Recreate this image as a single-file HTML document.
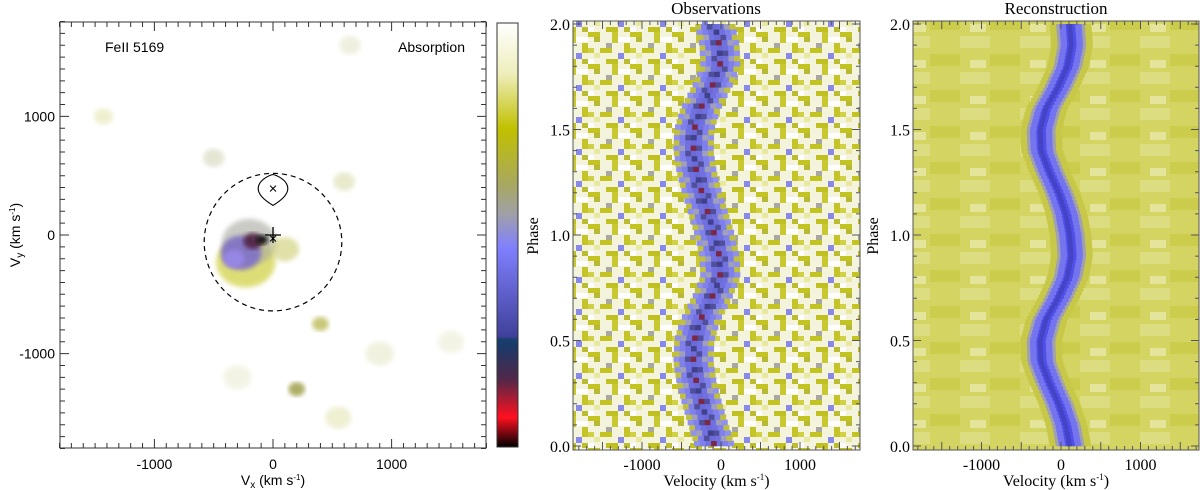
<!DOCTYPE html>
<html><head><meta charset="utf-8">
<style>
html,body{margin:0;padding:0;background:#fff;}
svg{display:block;}
.sans{font-family:"Liberation Sans",sans-serif;}
.serif{font-family:"Liberation Serif",serif;}
</style></head>
<body>
<svg id="fig" width="1200" height="490" viewBox="0 0 1200 490" xmlns="http://www.w3.org/2000/svg">
<defs>
<linearGradient id="cbar" x1="0" y1="0" x2="0" y2="1">
<stop offset="0" stop-color="#ffffff"/>
<stop offset="0.12" stop-color="#eeeebb"/>
<stop offset="0.25" stop-color="#c0c000"/>
<stop offset="0.38" stop-color="#a8a860"/>
<stop offset="0.45" stop-color="#a0a0a8"/>
<stop offset="0.53" stop-color="#8080ff"/>
<stop offset="0.74" stop-color="#40409a"/>
<stop offset="0.745" stop-color="#1a4070"/>
<stop offset="0.76" stop-color="#1a3a6a"/>
<stop offset="0.84" stop-color="#502848"/>
<stop offset="0.93" stop-color="#ff1020"/>
<stop offset="1" stop-color="#000000"/>
</linearGradient>
<pattern id="obsTex" width="42" height="32" patternUnits="userSpaceOnUse">
<rect width="42" height="32" fill="#f4f4dc"/>
<rect x="0" y="0" width="12" height="5" fill="#c4c420"/>
<rect x="24" y="0" width="6" height="11" fill="#c8c830"/>
<rect x="6" y="5" width="6" height="5" fill="#b8b838"/>
<rect x="30" y="5" width="12" height="5" fill="#ffffff"/>
<rect x="18" y="11" width="6" height="5" fill="#a8a8a0"/>
<rect x="0" y="16" width="6" height="5" fill="#d0d040"/>
<rect x="12" y="16" width="12" height="5" fill="#c4c420"/>
<rect x="36" y="11" width="6" height="10" fill="#c4c428"/>
<rect x="30" y="21" width="6" height="6" fill="#8888e8"/>
<rect x="6" y="21" width="6" height="5" fill="#e8e8a0"/>
<rect x="18" y="27" width="12" height="5" fill="#c0c020"/>
<rect x="0" y="27" width="6" height="5" fill="#ffffff"/>
<rect x="36" y="27" width="6" height="5" fill="#bcbc30"/>
</pattern>
<pattern id="recTex" width="60" height="36" patternUnits="userSpaceOnUse">
<rect width="60" height="36" fill="#d4d462"/>
<rect x="0" y="0" width="30" height="12" fill="#dcdc80"/>
<rect x="30" y="18" width="30" height="12" fill="#cccc4c"/>
<rect x="10" y="24" width="16" height="8" fill="#e4e49a"/>
</pattern>
<filter id="blur2"><feGaussianBlur stdDeviation="2.5"/></filter>
<clipPath id="clipL"><rect x="60" y="22" width="426" height="426"/></clipPath>
<clipPath id="clipM"><rect x="573" y="21" width="287" height="429"/></clipPath>
<clipPath id="clipR"><rect x="913" y="21" width="286" height="429"/></clipPath>
</defs>
</svg>
<script>
// ---- data ----
var phaseKnots = [0.0,0.1,0.2,0.3,0.4,0.5,0.6,0.7,0.8,0.9,1.0];
var recCenter = [110,60,-30,-150,-250,-260,-190,-40,80,130,110];   // km/s
var obsCenter = [-80,-160,-240,-310,-350,-340,-260,-120,-10,-20,-80]; // km/s
var mapBlobs = [ // vx, vy, radius(km/s), color, opacity
 [-230,-230,250,'#d8d860',0.85],
 [-200,-60,230,'#a8a8a0',0.6],
 [-270,-150,170,'#8070c8',0.9],
 [-330,-200,90,'#9a88e8',0.9],
 [-170,-50,80,'#502040',0.9],
 [-90,-40,50,'#111111',0.9],
 [100,-120,120,'#cccc70',0.6],
 [200,-1300,70,'#9a9a40',0.8],
 [400,-750,70,'#b0b040',0.7],
 [600,450,90,'#d4d49a',0.5],
 [-500,650,90,'#ccccaa',0.5],
 [-1430,1000,80,'#e0e0a0',0.5],
 [550,-1540,110,'#e0e0a8',0.5],
 [900,-1000,120,'#e4e4c0',0.5],
 [1500,-900,110,'#e8e8cc',0.5],
 [-300,-1200,120,'#e8e8cc',0.5],
 [650,1600,90,'#e0e0c0',0.5]
];
var mapTicks = [-1000,0,1000];
var velTicks = [-1000,0,1000];
var phaseTicks = [0.0,0.5,1.0,1.5,2.0];

var NS='http://www.w3.org/2000/svg';
var svg=document.getElementById('fig');
function el(tag,attrs,parent,text){var e=document.createElementNS(NS,tag);for(var k in attrs)e.setAttribute(k,attrs[k]);if(text!==undefined)e.textContent=text;(parent||svg).appendChild(e);return e;}

function LX(v){return 273+v*0.1186;}
function LY(v){return 235-v*0.1186;}
function MX(v){return 721+v*0.079;}
function RX(v){return 1061+v*0.0795;}
function PY(p){return 446-p*211;}
function centerAt(arr,p){var f=p-Math.floor(p);var i=Math.min(9,Math.floor(f*10));var t=f*10-i;return arr[i]*(1-t)+arr[i+1]*t;}

// ---------- Left map ----------
var gL=el('g',{'clip-path':'url(#clipL)'});


el('rect',{x:60,y:22,width:426,height:426,fill:'#ffffff'},gL);
mapBlobs.forEach(function(b){
  var c=el('ellipse',{cx:LX(b[0]),cy:LY(b[1]),rx:b[2]*0.1186,ry:b[2]*0.1186*0.85,fill:b[3],opacity:b[4],filter:'url(#blur2)'},gL);
  
  
});
var circ=el('circle',{cx:LX(0),cy:LY(-60),r:580*0.1186,fill:'none',stroke:'#000','stroke-width':1.2,'stroke-dasharray':'5,4'});


var lobe=el('path',{d:'M'+LX(0)+','+LY(250)+' C'+(LX(0)-30)+','+(LY(400))+' '+(LX(0)-6)+','+(LY(500))+' '+LX(0)+','+LY(510)+' C'+(LX(0)+6)+','+(LY(500))+' '+(LX(0)+30)+','+(LY(400))+' '+LX(0)+','+LY(250)+'Z',fill:'none',stroke:'#000','stroke-width':1.1});


el('text',{x:LX(0),y:LY(390)+5,'text-anchor':'middle','font-size':15,class:'sans'},svg,'×');
el('text',{x:LX(0),y:LY(-30)+5,'text-anchor':'middle','font-size':15,class:'sans'},svg,'×');
el('path',{d:'M'+LX(0)+','+(LY(0)-8)+'V'+(LY(0)+8)+'M'+(LX(0)-8)+','+LY(0)+'H'+(LX(0)+8),stroke:'#000','stroke-width':1.3});
var lf=el('rect',{x:60,y:22,width:426,height:426,fill:'none',stroke:'#333','stroke-width':1});


var tk='';
for(var v=-1800;v<=1800;v+=100){var L=(v%1000===0)?9:5;var x=LX(v);tk+='M'+x+',448v-'+L+'M'+x+',22v'+L;var y=LY(v);tk+='M60,'+y+'h'+L+'M486,'+y+'h-'+L;}
el('path',{d:tk,stroke:'#333','stroke-width':1});
mapTicks.forEach(function(t){
  el('text',{x:LX(t),y:469,'text-anchor':'middle','font-size':14,class:'sans'},svg,String(t));
  el('text',{x:55,y:LY(t)+5,'text-anchor':'end','font-size':14,class:'sans'},svg,String(t));
});
var t1=el('text',{x:105,y:52,'font-size':14,class:'sans'},svg,'FeII 5169');


var t2=el('text',{x:465,y:52,'text-anchor':'end','font-size':14,class:'sans'},svg,'Absorption');


var xl=el('text',{x:273,y:485,'text-anchor':'middle','font-size':14,class:'sans'},svg);


xl.innerHTML='V<tspan font-size="10" dy="3">x</tspan><tspan dy="-3"> (km s</tspan><tspan font-size="8" dy="-5">-1</tspan><tspan dy="5">)</tspan>';
var yl=el('text',{x:0,y:0,'text-anchor':'middle','font-size':14,class:'sans',transform:'translate(20,235) rotate(-90)'},svg);


yl.innerHTML='V<tspan font-size="10" dy="3">y</tspan><tspan dy="-3"> (km s</tspan><tspan font-size="8" dy="-5">-1</tspan><tspan dy="5">)</tspan>';

var cb=el('rect',{x:497,y:23,width:21,height:424,fill:'url(#cbar)',stroke:'#333','stroke-width':1});



// ---------- trail panels ----------
function drawTrail(gid,clip,X,centers,isObs,x0,x1){
  var g=el('g',{'clip-path':'url('+clip+')'});
  
  
  el('rect',{x:x0,y:21,width:x1-x0,height:429,fill:isObs?'url(#obsTex)':'url(#recTex)'},g);
  var nRows=isObs?80:120, dv=isObs?72:40;
  for(var r=0;r<nRows;r++){
    var p0=r*2/nRows,p1=(r+1)*2/nRows,pm=(p0+p1)/2;
    var c=centerAt(centers,pm);
    for(var v=-432;v<=432;v+=dv){
      var d=Math.abs(v), col=null, k=Math.round(v/dv);
      if(isObs){
        if(d<40) col=(r%4===0)?'#7a2848':((r%4===2)?'#40408c':'#6a6ad8');
        else if(d<110) col=((r+k)%3===0)?'#50509a':'#7070e0';
        else if(d<180) col=((r+k)%3===0)?'#a0a0b8':'#8080ec';
        else if(d<260) col=((r+k)%2)?'#9090f0':'#c0c040';
      } else {
        if(d<70) col='#5050e8';
        else if(d<130) col='#7474f0';
        else if(d<190) col='#a0a0b0';
        else if(d<260) col='#c8c848';
      }
      if(!col) continue;
      var xa=X(c+v-dv/2), xb=X(c+v+dv/2);
      var cell=el('rect',{x:xa,y:PY(p1),width:xb-xa+0.3,height:PY(p0)-PY(p1)+0.3,fill:col},g);
      
      
    }
  }
  if(!isObs){
    for(var r2=0;r2<nRows;r2++){
      var pa=r2*2/nRows,pb=(r2+1)*2/nRows,c2=centerAt(centers,(pa+pb)/2);
      var core=el('rect',{x:X(c2-30),y:PY(pb),width:X(c2+30)-X(c2-30),height:PY(pa)-PY(pb)+0.3,fill:'#3c3cb0',opacity:0.6},g);
      
      
    }
  }
  var f=el('rect',{x:x0,y:21,width:x1-x0,height:429,fill:'none',stroke:'#555','stroke-width':1});
  
  
  var tk='';
  for(var vv=-1800;vv<=1700;vv+=100){var xx=X(vv);if(xx<x0||xx>x1)continue;var L=(vv%500===0)?8:4;tk+='M'+xx+',450v-'+L+'M'+xx+',21v'+L;}
  for(var pp=0;pp<=2.001;pp+=0.1){var L2=(Math.round(pp*10)%5===0)?8:4;tk+='M'+x0+','+PY(pp)+'h'+L2+'M'+x1+','+PY(pp)+'h-'+L2;}
  el('path',{d:tk,stroke:'#555','stroke-width':1});
  velTicks.forEach(function(t){el('text',{x:X(t),y:470,'text-anchor':'middle','font-size':16,class:'serif'},svg,String(t));});
  phaseTicks.forEach(function(t){el('text',{x:x0-3,y:PY(t)+6,'text-anchor':'end','font-size':16,class:'serif'},svg,t.toFixed(1));});
  var xt=el('text',{x:(x0+x1)/2,y:486,'text-anchor':'middle','font-size':16,class:'serif'},svg);
  
  
  xt.innerHTML='Velocity (km s<tspan font-size="9" dy="-6">-1</tspan><tspan dy="6">)</tspan>';
  var yt=el('text',{x:0,y:0,'text-anchor':'middle','font-size':16,class:'serif',transform:'translate('+(x0-35)+',236) rotate(-90)'},svg,'Phase');
  
  
}
drawTrail('observations-trail','#clipM',MX,obsCenter,true,573,860);
drawTrail('reconstruction-trail','#clipR',RX,recCenter,false,913,1199);
var ot=el('text',{x:716,y:14,'text-anchor':'middle','font-size':17,class:'serif'},svg,'Observations');


var rt=el('text',{x:1056,y:14,'text-anchor':'middle','font-size':17,class:'serif'},svg,'Reconstruction');


</script>
</body></html>
